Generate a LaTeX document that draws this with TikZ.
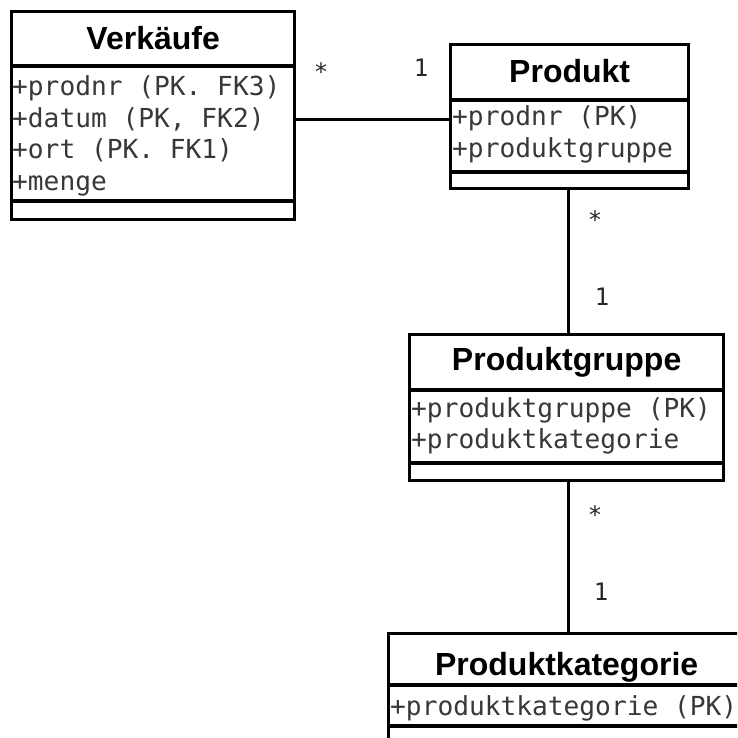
\documentclass[tikz,border=0pt]{standalone}
\usepackage{fontspec}
\newfontfamily\classfont{Liberation Sans}
\newfontfamily\attrfont{DejaVu Sans Mono}
\begin{document}
\begin{tikzpicture}[x=1pt,y=-1pt,
  classbox/.style={draw=black,line width=3.3pt,rectangle,inner sep=0pt,anchor=north west,fill=white},
  sep/.style={line width=3.3pt},
  classtitle/.style={inner sep=0pt,anchor=base,font=\classfont\bfseries\fontsize{32}{36}\selectfont},
  attr/.style={inner sep=0pt,anchor=base west,text=black!78,font=\attrfont\fontsize{26.2}{30}\selectfont},
  mult/.style={inner sep=0pt,anchor=base,text=black!85,font=\attrfont\fontsize{24}{27}\selectfont},
  assoc/.style={line width=3.3pt}]
\useasboundingbox (0,0) rectangle (737,738);
\clip (0,0) rectangle (737,738);

% class Verkäufe
\node[classbox,minimum width=283pt,minimum height=208pt] (verk) at (10,10) {};
\draw[sep] (verk.west |- 0,66) -- (verk.east |- 0,66);
\draw[sep] (verk.west |- 0,201) -- (verk.east |- 0,201);
\node[classtitle] (verkT) at (verk.north |- 0,50) {Verkäufe};
\node[attr] (verkA1) at (12,96) {+prodnr (PK. FK3)};
\node[attr] (verkA2) at (12,127.5) {+datum (PK, FK2)};
\node[attr] (verkA3) at (12,159) {+ort (PK. FK1)};
\node[attr] (verkA4) at (12,190) {+menge};

% class Produkt
\node[classbox,minimum width=238pt,minimum height=144pt] (prod) at (449,43) {};
\draw[sep] (prod.west |- 0,100) -- (prod.east |- 0,100);
\draw[sep] (prod.west |- 0,172) -- (prod.east |- 0,172);
\node[classtitle] (prodT) at (prod.north |- 0,83) {Produkt};
\node[attr] (prodA1) at (452,126) {+prodnr (PK)};
\node[attr] (prodA2) at (452,158) {+produktgruppe};

% class Produktgruppe
\node[classbox,minimum width=314pt,minimum height=146pt] (pg) at (408,333) {};
\draw[sep] (pg.west |- 0,390) -- (pg.east |- 0,390);
\draw[sep] (pg.west |- 0,463) -- (pg.east |- 0,463);
\node[classtitle] (pgT) at (pg.north |- 0,370) {Produktgruppe};
\node[attr] (pgA1) at (411,417) {+produktgruppe (PK)};
\node[attr] (pgA2) at (411,448) {+produktkategorie};

% class Produktkategorie (runs past the right and bottom edges)
\node[classbox,minimum width=356pt,minimum height=140pt] (pk) at (387,632) {};
\draw[sep] (pk.west |- 0,685) -- (pk.east |- 0,685);
\draw[sep] (pk.west |- 0,726) -- (pk.east |- 0,726);
\node[classtitle] (pkT) at (pk.north |- 0,675) {Produktkategorie};
\node[attr] (pkA1) at (390,715) {+produktkategorie (PK)};

% associations
\draw[assoc] ([yshift=-4pt]verk.east) -- ([yshift=-3pt]prod.west);
\draw[assoc] ([xshift=-1pt]prod.south) -- ([xshift=-1pt]prod.south |- pg.north);
\draw[assoc] ([xshift=2pt]pg.south) -- ([xshift=2pt]pg.south |- pk.north);

% multiplicities
\node[mult] (m1) at (321,81) {*};
\node[mult] (m2) at (421,77) {1};
\node[mult] (m3) at (595,228) {*};
\node[mult] (m4) at (602,305) {1};
\node[mult] (m5) at (595,523) {*};
\node[mult] (m6) at (601,600) {1};
\end{tikzpicture}
\end{document}
